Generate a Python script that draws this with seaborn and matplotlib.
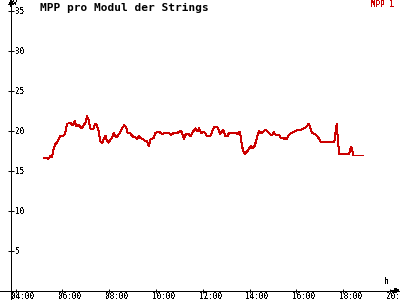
import matplotlib
matplotlib.use("Agg")
import matplotlib.pyplot as plt
import matplotlib.transforms as mtransforms
import seaborn as sns
import pandas as pd

# ---------------- data ----------------
times = ["05:13", "05:24", "05:29", "05:33", "05:37", "05:41", "05:46", "05:50", "05:54",
         "06:03", "06:07", "06:12", "06:16", "06:20", "06:26", "06:31", "06:35", "06:41",
         "06:46", "06:50", "06:54", "06:59", "07:03", "07:07", "07:11", "07:16", "07:20",
         "07:24", "07:29", "07:33", "07:37", "07:42", "07:46", "07:50", "07:54", "07:58",
         "08:03", "08:07", "08:11", "08:16", "08:20", "08:24", "08:29", "08:33", "08:39",
         "08:44", "08:47", "08:54", "08:59", "09:07", "09:11", "09:16", "09:20", "09:28",
         "09:33", "09:37", "09:41", "09:46", "09:54", "09:58", "10:03", "10:09", "10:16",
         "10:24", "10:33", "10:39", "10:45", "10:54", "11:03", "11:07", "11:11", "11:17",
         "11:24", "11:28", "11:35", "11:41", "11:46", "11:50", "11:56", "12:03", "12:11",
         "12:20", "12:24", "12:30", "12:37", "12:45", "12:52", "12:58", "13:03", "13:07",
         "13:24", "13:30", "13:34", "13:37", "13:41", "13:44", "13:47", "13:54", "14:03",
         "14:07", "14:13", "14:20", "14:24", "14:28", "14:33", "14:39", "14:44", "14:50",
         "14:54", "14:58", "15:02", "15:07", "15:15", "15:20", "15:28", "15:33", "15:35",
         "15:41", "15:47", "15:54", "15:58", "16:11", "16:20", "16:26", "16:32", "16:37",
         "16:41", "16:50", "16:54", "16:58", "17:02", "17:37", "17:39", "17:41", "17:44",
         "17:45", "17:48", "17:50", "18:15", "18:18", "18:21", "18:24", "18:26", "18:50"]

mpp1 = [16.6, 16.5, 16.8, 16.7, 17.6, 18.3, 18.5, 18.9, 19.3,
        19.4, 19.7, 20.9, 20.9, 21.0, 20.7, 21.2, 20.6, 20.7,
        20.5, 20.3, 20.7, 21.0, 21.8, 21.4, 20.3, 20.2, 20.3,
        20.9, 20.6, 19.9, 18.7, 18.5, 19.0, 19.4, 18.7, 18.5,
        18.9, 19.1, 19.7, 19.3, 19.2, 19.5, 19.9, 20.3, 20.7,
        20.3, 19.7, 19.7, 19.3, 19.2, 18.9, 19.3, 19.1, 18.9,
        18.7, 18.7, 18.1, 18.9, 19.1, 19.7, 19.8, 19.8, 19.6,
        19.7, 19.7, 19.5, 19.7, 19.7, 20.0, 19.7, 19.0, 19.6,
        19.6, 19.3, 19.9, 20.3, 19.9, 20.3, 19.7, 19.9, 19.3,
        19.4, 19.9, 20.5, 20.5, 19.6, 20.1, 19.3, 19.3, 19.7,
        19.7, 19.6, 19.9, 19.3, 18.0, 17.4, 17.1, 17.4, 18.1,
        17.8, 18.1, 19.3, 20.0, 19.7, 19.8, 20.1, 20.0, 19.7,
        19.5, 19.5, 19.8, 19.5, 19.5, 19.1, 19.0, 19.1, 18.9,
        19.5, 19.7, 19.9, 20.0, 20.1, 20.3, 20.5, 20.9, 20.1,
        19.7, 19.5, 19.3, 19.0, 18.6, 18.6, 19.0, 20.1, 20.9,
        19.8, 18.0, 17.1, 17.1, 17.6, 18.0, 17.4, 16.9, 16.9]

y_ticks = [5, 10, 15, 20, 25, 30, 35]
y_tick_labels = ["5", "10", "15", "20", "25", "30", "35"]
x_tick_hours = [4, 6, 8, 10, 12, 14, 16, 18, 20]
x_tick_labels = ["04:00", "06:00", "08:00", "10:00", "12:00", "14:00", "16:00", "18:00", "20:00"]
title = "MPP pro Modul der Strings"
series_name = "MPP 1"
x_unit = "h"
y_unit = "V"

# ---------------- style ----------------
sns.set_theme(style="white")
plt.rcParams['font.family'] = ['DejaVu Sans Mono', 'DejaVu Sans']
plt.rcParams['text.antialiased'] = False
plt.rcParams['patch.antialiased'] = False

RED = "#cc0000"
PX = 0.72  # points per pixel at dpi 100
Y_AXIS_AT = 3.80

hours = [int(t[:2]) + int(t[3:]) / 60 for t in times]
df = pd.DataFrame({"h": hours, "v": mpp1})

fig = plt.figure(figsize=(4, 3), dpi=100)
fig.patch.set_facecolor("white")
ax = fig.add_axes([0, 0, 1, 1])
ax.set_facecolor("white")

sns.lineplot(data=df, x="h", y="v", ax=ax, color=RED, linewidth=1 * PX,
             estimator=None, sort=False, antialiased=False)

ax.set_xlim(3.329, 20.430)
ax.set_ylim(-1.1625, 36.3375)
ax.set_xlabel("")
ax.set_ylabel("")

for s in ("top", "right"):
    ax.spines[s].set_visible(False)
ax.spines["left"].set_position(("data", Y_AXIS_AT))
ax.spines["bottom"].set_position(("data", 0))
for s in ("left", "bottom"):
    ax.spines[s].set_color("black")
    ax.spines[s].set_linewidth(1 * PX)

ax.set_yticks(y_ticks, y_tick_labels)
ax.set_xticks(x_tick_hours, x_tick_labels)
ax.tick_params(axis="y", direction="inout", length=6 * PX, width=1 * PX,
               color="black", labelcolor="black", labelsize=5.5, pad=-(4 * PX + 3 * PX),
               left=True)
ax.tick_params(axis="x", direction="inout", length=4 * PX, width=1 * PX,
               color="black", labelcolor="black", labelsize=5.5, pad=-0.6,
               bottom=True)
for lab in ax.get_yticklabels():
    lab.set_ha("left")
shift = mtransforms.ScaledTranslation(-4 / 100, 0, fig.dpi_scale_trans)
for lab in ax.get_xticklabels():
    lab.set_ha("left")
    lab.set_transform(lab.get_transform() + shift)

# axis arrow heads
ax.annotate("", xy=(Y_AXIS_AT, 1.0), xytext=(Y_AXIS_AT, 1 - 6 / 300),
            xycoords=("data", "figure fraction"),
            arrowprops=dict(arrowstyle="->", lw=1 * PX, color="black",
                            shrinkA=0, shrinkB=0, mutation_scale=6))
ax.annotate("", xy=(399.5 / 400, 0), xytext=(392 / 400, 0),
            xycoords=("figure fraction", "data"),
            arrowprops=dict(arrowstyle="->", lw=1 * PX, color="black",
                            shrinkA=0, shrinkB=0, mutation_scale=6))

# texts
fig.text(40 / 400, 1 - 7.5 / 300, title, ha="left", va="center",
         fontsize=8, fontweight="bold", color="black", antialiased=True)
fig.text(394 / 400, 1 - 4.5 / 300, series_name, ha="right", va="center",
         color=RED, fontsize=5.5)
fig.text(13 / 400, 1 - 3 / 300, y_unit, ha="left", va="center", fontsize=5, color="black")
fig.text(386.5 / 400, 1 - 281 / 300, x_unit, ha="center", va="center", fontsize=5.5, color="black")

fig.savefig("out.png", dpi=100, facecolor="white")
